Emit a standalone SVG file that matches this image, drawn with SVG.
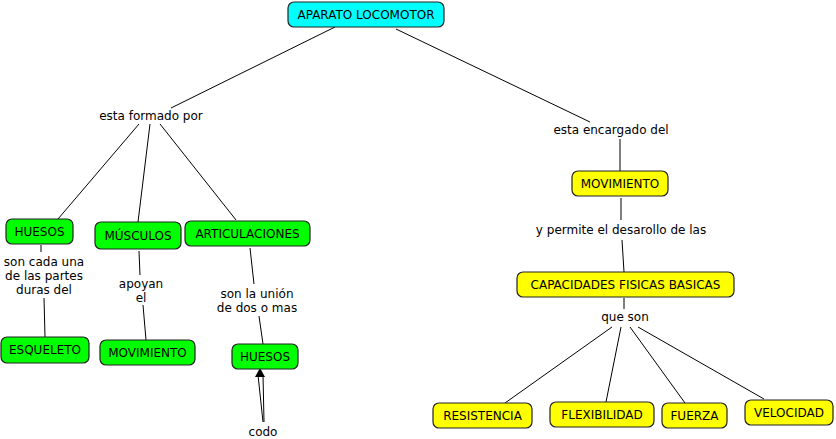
<svg xmlns="http://www.w3.org/2000/svg" width="836" height="439" viewBox="0 0 836 439">
<style>
text{font-family:"DejaVu Sans",Verdana,sans-serif;font-size:12px;fill:#000;text-anchor:middle}
.n{stroke:#222;stroke-width:1.2}
.c{fill:#00ffff}.g{fill:#00ff00}.y{fill:#ffff00}
#connectors line{stroke:#000;stroke-width:1}
</style>
<rect width="836" height="439" fill="#fff"/>
<g id="connectors">
<line x1="335" y1="27" x2="171" y2="108"/>
<line x1="396" y1="29" x2="590" y2="122"/>
<line x1="139" y1="124" x2="58" y2="219"/>
<line x1="150" y1="124" x2="138" y2="222"/>
<line x1="160" y1="124" x2="236" y2="220"/>
<line x1="620" y1="139" x2="620" y2="171"/>
<line x1="41" y1="245" x2="41" y2="252"/>
<line x1="44" y1="298" x2="45" y2="337"/>
<line x1="139" y1="251" x2="140" y2="275"/>
<line x1="143" y1="305" x2="146" y2="340"/>
<line x1="250" y1="248" x2="254" y2="284"/>
<line x1="259" y1="316" x2="263" y2="344"/>
<line x1="621" y1="198" x2="621" y2="220"/>
<line x1="622" y1="240" x2="624" y2="272"/>
<line x1="624" y1="298" x2="624" y2="309"/>
<line x1="612" y1="327" x2="505" y2="403"/>
<line x1="621" y1="327" x2="606" y2="402"/>
<line x1="630" y1="327" x2="685" y2="403"/>
<line x1="638" y1="327" x2="764" y2="399"/>
<line x1="263" y1="422" x2="258" y2="375"/>
<line x1="264" y1="422" x2="263" y2="375"/>
<polygon points="260,368 255,377 265,377" fill="#000"/>
</g>
<g id="n-aparato"><rect class="n c" x="288" y="2" width="156" height="25" rx="6"/><text x="366" y="19">APARATO LOCOMOTOR</text></g>
<g id="l-formado"><text x="151" y="120">esta formado por</text></g>
<g id="l-encargado"><text x="611" y="134">esta encargado del</text></g>
<g id="n-huesos1"><rect class="n g" x="6" y="219" width="67" height="25" rx="6"/><text x="39.5" y="236">HUESOS</text></g>
<g id="n-musculos"><rect class="n g" x="95" y="222" width="86" height="27" rx="6"/><text x="138" y="240">MÚSCULOS</text></g>
<g id="n-articulaciones"><rect class="n g" x="185" y="221" width="125" height="25" rx="6"/><text x="247.5" y="238">ARTICULACIONES</text></g>
<g id="l-huesos"><text x="44" y="266">son cada una</text><text x="44" y="280">de las partes</text><text x="44" y="294">duras del</text></g>
<g id="l-apoyan"><text x="141" y="288">apoyan</text><text x="141" y="302">el</text></g>
<g id="l-union"><text x="257" y="298">son la unión</text><text x="257" y="312">de dos o mas</text></g>
<g id="n-esqueleto"><rect class="n g" x="1" y="337" width="88" height="26" rx="6"/><text x="45" y="354">ESQUELETO</text></g>
<g id="n-movimiento1"><rect class="n g" x="100" y="340" width="95" height="25" rx="6"/><text x="147.5" y="357">MOVIMIENTO</text></g>
<g id="n-huesos2"><rect class="n g" x="232" y="344" width="66" height="25" rx="6"/><text x="265" y="361">HUESOS</text></g>
<g id="l-codo"><text x="263" y="436">codo</text></g>
<g id="n-movimiento2"><rect class="n y" x="572" y="171" width="96" height="25" rx="6"/><text x="620" y="188">MOVIMIENTO</text></g>
<g id="l-permite"><text x="621" y="234">y permite el desarollo de las</text></g>
<g id="n-capacidades"><rect class="n y" x="517" y="272" width="217" height="25" rx="6"/><text x="625.5" y="289">CAPACIDADES FISICAS BASICAS</text></g>
<g id="l-queson"><text x="625" y="321">que son</text></g>
<g id="n-resistencia"><rect class="n y" x="433" y="403" width="99" height="25" rx="6"/><text x="482.5" y="420">RESISTENCIA</text></g>
<g id="n-flexibilidad"><rect class="n y" x="550" y="402" width="104" height="25" rx="6"/><text x="602" y="419">FLEXIBILIDAD</text></g>
<g id="n-fuerza"><rect class="n y" x="662" y="403" width="65" height="25" rx="6"/><text x="694.5" y="420">FUERZA</text></g>
<g id="n-velocidad"><rect class="n y" x="745" y="400" width="88" height="25" rx="6"/><text x="789" y="417">VELOCIDAD</text></g>
</svg>
